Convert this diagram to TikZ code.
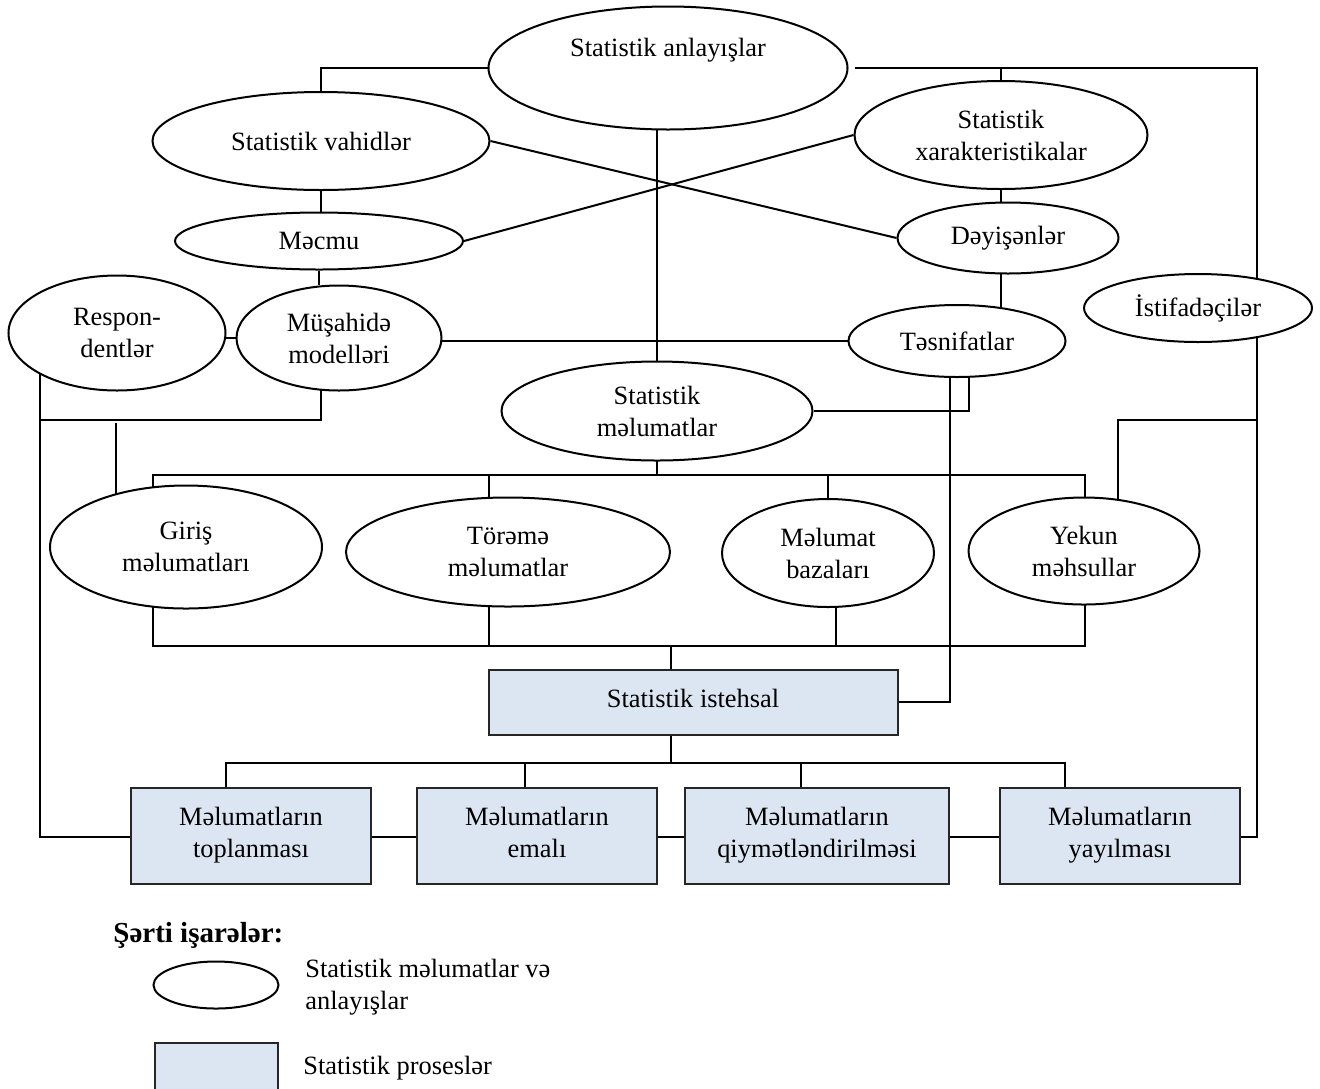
\documentclass[tikz,border=0pt]{standalone}
\usepackage{fontspec}
\setmainfont{Liberation Serif}
\usetikzlibrary{shapes.geometric,backgrounds}
\definecolor{procblue}{RGB}{220,230,242}
\tikzset{
  txt/.style={font=\fontsize{13.2}{16}\selectfont, align=center},
  ell/.style={txt, ellipse, draw=black, fill=white, line width=1pt, inner sep=0pt},
  proc/.style={txt, rectangle, draw=black!85, fill=procblue, line width=1pt, inner sep=0pt, text depth=3.5pt},
  conn/.style={draw=black, line width=1pt},
}
\begin{document}
\begin{tikzpicture}[x=0.5pt,y=-0.5pt]
\useasboundingbox (0,0) rectangle (1320,1088);

% ellipses
\node[ell, minimum width=179.5pt, minimum height=61.5pt,
      label={[txt, yshift=9pt]center:Statistik anlayışlar}] (anl) at (668,68) {};
\node[ell, minimum width=168.5pt, minimum height=49pt] (vah) at (321,141) {Statistik vahidlər};
\node[ell, minimum width=144pt, minimum height=28.5pt] (mec) at (319,241) {Məcmu};
\node[ell, minimum width=108.5pt, minimum height=57.5pt] (res) at (117,333) {Respon-\\dentlər};
\node[ell, minimum width=102.5pt, minimum height=52.5pt] (mus) at (339,338) {Müşahidə\\modelləri};
\node[ell, minimum width=155.5pt, minimum height=49.5pt] (sm) at (657,411) {Statistik\\məlumatlar};
\node[ell, minimum width=146.5pt, minimum height=54pt] (xar) at (1001,135) {Statistik\\xarakteristikalar};
\node[ell, minimum width=110.5pt, minimum height=35.5pt] (dey) at (1008,238) {Dəyişənlər};
\node[ell, minimum width=108.5pt, minimum height=36pt] (tas) at (957,341) {Təsnifatlar};
\node[ell, minimum width=114pt, minimum height=34pt] (ist) at (1198,308) {İstifadəçilər};
\node[ell, minimum width=136pt, minimum height=61.5pt] (gir) at (186,547) {Giriş\\məlumatları};
\node[ell, minimum width=162pt, minimum height=54.5pt] (tor) at (508,552) {Törəmə\\məlumatlar};
\node[ell, minimum width=106pt, minimum height=54pt] (mb) at (828,553) {Məlumat\\bazaları};
\node[ell, minimum width=115.5pt, minimum height=53.5pt] (yek) at (1084,551) {Yekun\\məhsullar};

% process boxes
\node[proc, minimum width=204.5pt, minimum height=32.5pt] (prod) at (693,702) {Statistik istehsal};
\node[proc, minimum width=120pt, minimum height=48pt] (b1) at (251,836) {Məlumatların\\toplanması};
\node[proc, minimum width=120pt, minimum height=48pt] (b2) at (537,836) {Məlumatların\\emalı};
\node[proc, minimum width=132pt, minimum height=48pt] (b3) at (817,836) {Məlumatların\\qiymətləndirilməsi};
\node[proc, minimum width=120pt, minimum height=48pt] (b4) at (1120,836) {Məlumatların\\yayılması};

% legend
\node[anchor=west, font=\fontsize{14.5}{17}\selectfont\bfseries, inner sep=0pt] (legt) at (113,935) {Şərti işarələr:};
\node[ell, minimum width=62.5pt, minimum height=23.5pt] (lego) at (216,985) {};
\node[txt, anchor=west, align=left, inner sep=0pt] (legot) at (305,987) {Statistik məlumatlar və\\anlayışlar};
\node[proc, minimum width=61.5pt, minimum height=28.5pt] (legb) at (216.5,1071.5) {};
\node[txt, anchor=west, inner sep=0pt] (legbt) at (303,1068) {Statistik proseslər};

% helper coordinates
\coordinate (rtop) at (1257,68);
\coordinate (rbot) at (1257,837);
\coordinate (lbot) at (40,837);
\coordinate (mL) at (321,420);
\coordinate (gv) at (116,423);
\coordinate (yv) at (1118,420);
\coordinate (tasR) at (969,341);
\coordinate (tasL) at (950,341);
\coordinate (busL) at (153,475);
\coordinate (busR) at (1085,475);
\coordinate (tdT) at (489,475);
\coordinate (bbL) at (153,646);
\coordinate (bbR) at (1085,646);
\coordinate (tdB) at (489,646);
\coordinate (mdB) at (836,646);
\coordinate (pbT) at (671,646);
\coordinate (pbB) at (671,763);
\coordinate (d1) at (226,763);
\coordinate (d2) at (525,763);
\coordinate (d3) at (801,763);
\coordinate (d4) at (1065,763);

\begin{pgfonlayer}{background}
  % top frame
  \draw[conn] (anl.west) -| (vah.north);
  \draw[conn] ([xshift=3pt]anl.east) -- (rtop) -- (rbot) -- (lbot) -- (lbot |- res.center);
  \draw[conn] (xar.north) -- (xar.north |- rtop);
  % left chain
  \draw[conn] (vah.south) -- (vah.south |- mec.north);
  \draw[conn] (mec.south) -- (mec.south |- mus.north);
  \draw[conn] (mus.center) -- (mus.center -| res.center);
  \draw[conn] (mus.center |- tas.center) -- (tas.center);
  \draw[conn] (mL |- mus.center) -- (mL) -- (lbot |- mL);
  \draw[conn] (gv) -- (gv |- gir.center);
  % cross
  \draw[conn] (vah.east) -- (dey.west);
  \draw[conn] (mec.east) -- (xar.west);
  \draw[conn] (xar.south) -- (xar.south |- dey.center);
  \draw[conn] (xar.south |- dey.center) -- (xar.south |- tas.center);
  \draw[conn] (sm.center) -- (sm.center |- anl.center);
  % Təsnifatlar links
  \draw[conn] (sm.east) -| (tasR);
  \draw[conn] (tasL) |- (prod.east);
  % right
  \draw[conn] (yv |- yek.center) -- (yv) -- (rtop |- yv);
  % top bus
  \draw[conn] (sm.center) -- (sm.center |- busL);
  \draw[conn] (busL |- gir.center) -- (busL) -- (busR) -- (busR |- yek.center);
  \draw[conn] (tdT) -- (tdT |- tor.center);
  \draw[conn] (mb.center) -- (mb.center |- busL);
  % bottom bus
  \draw[conn] (bbL |- gir.center) -- (bbL) -- (bbR) -- (bbR |- yek.center);
  \draw[conn] (tdB) -- (tdB |- tor.center);
  \draw[conn] (mdB) -- (mdB |- mb.center);
  \draw[conn] (pbT) -- (pbT |- prod.center);
  \draw[conn] (pbB) -- (pbB |- prod.center);
  % process bus
  \draw[conn] (d1 |- b1.center) -- (d1) -- (d4) -- (d4 |- b4.center);
  \draw[conn] (d2) -- (d2 |- b2.center);
  \draw[conn] (d3) -- (d3 |- b3.center);
\end{pgfonlayer}
\end{tikzpicture}
\end{document}
